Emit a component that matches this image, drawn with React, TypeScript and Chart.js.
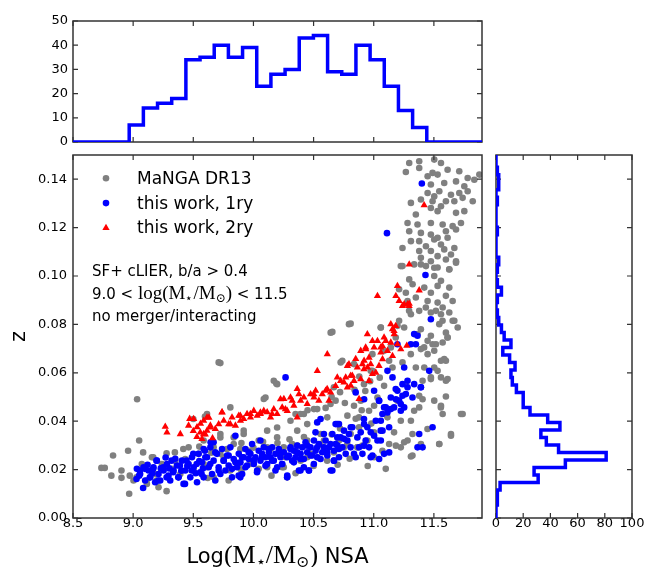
import { useEffect, useRef } from 'react';
import { Chart, registerables } from 'chart.js';

Chart.register(...registerables);

const W = 655;
const H = 567;
const SANS = '"DejaVu Sans", sans-serif';
const SERIF = '"Liberation Serif", "DejaVu Serif", serif';
const GRAY = '#808080';
const BLUE = '#0000ff';
const RED = '#ff0000';
const FRAME = '#333333';

// ---------- tick values ----------
const xTicks = [8.5, 9.0, 9.5, 10.0, 10.5, 11.0, 11.5];
const zTicks = [0, 0.02, 0.04, 0.06, 0.08, 0.1, 0.12, 0.14];
const topCountTicks = [0, 10, 20, 30, 40, 50];
const rightCountTicks = [0, 20, 40, 60, 80, 100];

// ---------- labels ----------
const seriesLabels = ['MaNGA DR13', 'this work, 1ry', 'this work, 2ry'];

// ---------- top histogram (stellar mass) ----------
const massBinStart = 8.496;
const massBinWidth = 0.1178;
const massCounts = [0, 0, 0, 0, 7, 14, 16, 18, 34, 35, 40, 35, 39, 23, 28, 30, 43, 44, 29, 28, 40, 34, 23, 13, 6, 0, 0, 0, 0];

// ---------- right histogram (redshift) ----------
const zBinStart = -0.0008;
const zBinWidth = 0.0031;
const zCounts = [0, 0, 1, 1, 3, 31, 28, 51, 81, 46, 37, 33, 47, 38, 25, 20, 20, 15, 12, 11, 14, 10, 5, 11, 6, 4, 2,
  1, 0, 1, 4, 1, 0, 1, 2, 0, 0, 0, 1, 0, 0, 0, 1, 0, 2, 2, 1, 0, 0, 0];

// ---------- scatter: MaNGA DR13 (gray) ----------
const mangaDR13: [number, number][] = [
  [9.033, 0.0491], [9.05, 0.032], [8.833, 0.0258], [8.958, 0.0278], [9.083, 0.0271], [8.736, 0.0207], [8.764, 0.0207],
  [8.819, 0.0175], [8.903, 0.0196], [8.903, 0.0166], [8.967, 0.01], [9.278, 0.0111], [9.167, 0.0251], [9.278, 0.0267],
  [9.347, 0.0271], [9.417, 0.0285], [9.5, 0.0409], [9.597, 0.0419], [9.028, 0.0168], [8.972, 0.0175], [9.194, 0.0155],
  [9.111, 0.0155], [9.003, 0.0155], [9.072, 0.0223], [9.114, 0.0141], [9.156, 0.0251], [9.183, 0.0182], [9.211, 0.0127],
  [9.239, 0.0223], [9.322, 0.0203], [9.35, 0.0237], [9.392, 0.0182], [9.433, 0.0244], [9.461, 0.0292], [9.503, 0.0196],
  [9.544, 0.0265], [9.586, 0.032], [9.614, 0.021], [9.669, 0.0292], [9.711, 0.0643], [9.725, 0.0333], [9.753, 0.0251],
  [9.794, 0.0155], [9.836, 0.0306], [9.878, 0.021], [9.919, 0.0347], [9.961, 0.0278], [10.003, 0.0237], [10.044, 0.032],
  [10.086, 0.0492], [10.114, 0.021], [10.142, 0.0285], [10.169, 0.0567], [10.197, 0.0333], [10.239, 0.021], [10.267, 0.0251],
  [10.281, 0.0168], [10.322, 0.0306], [10.364, 0.0361], [10.392, 0.0237], [10.419, 0.043], [10.447, 0.032], [10.475, 0.0265],
  [10.503, 0.045], [10.531, 0.0251], [10.558, 0.0347], [10.586, 0.0292], [10.614, 0.0416], [10.642, 0.0766], [10.669, 0.054],
  [10.683, 0.0485], [10.711, 0.032], [10.725, 0.0643], [10.753, 0.0292], [10.781, 0.0423], [10.794, 0.0801], [10.808, 0.0347],
  [10.836, 0.0464], [10.864, 0.0292], [10.878, 0.0375], [10.892, 0.0485], [10.919, 0.0553], [10.947, 0.032], [10.961, 0.0443],
  [10.975, 0.0608], [10.989, 0.0677], [11.003, 0.0354], [11.031, 0.0498], [11.058, 0.0787], [11.072, 0.0278], [11.086, 0.0546],
  [11.114, 0.0416], [11.128, 0.0306], [11.142, 0.0705], [11.156, 0.0622], [11.169, 0.0354], [11.183, 0.0746], [11.197, 0.0485],
  [11.211, 0.0815], [11.225, 0.0402], [11.239, 0.0643], [11.253, 0.0787], [11.267, 0.0553], [11.281, 0.032], [11.294, 0.0856],
  [11.308, 0.0677], [11.322, 0.0258], [11.336, 0.0443], [11.35, 0.0622], [11.364, 0.076], [11.378, 0.0505], [11.392, 0.0306],
  [11.406, 0.0567], [11.419, 0.0705], [11.433, 0.087], [11.447, 0.0368], [11.475, 0.0581], [11.489, 0.0718], [11.503, 0.0485],
  [11.517, 0.0856], [11.531, 0.0608], [11.544, 0.0306], [11.558, 0.0457], [11.572, 0.0815], [11.586, 0.0657], [11.6, 0.0567],
  [11.614, 0.0746], [11.642, 0.0347], [11.656, 0.0815], [11.725, 0.043],
  [9.725, 0.0347], [9.836, 0.0333], [9.919, 0.0361], [10.114, 0.0361], [10.197, 0.0374], [10.308, 0.0402], [10.391, 0.043],
  [10.447, 0.0388], [10.53, 0.045], [10.641, 0.0471], [10.197, 0.0553], [10.1, 0.0498], [9.808, 0.0457], [9.614, 0.043],
  [9.669, 0.0168], [9.808, 0.0196], [9.975, 0.0223], [10.044, 0.0203], [10.252, 0.021], [10.252, 0.0292], [10.364, 0.0299],
  [10.586, 0.032], [10.669, 0.0271], [10.114, 0.0292], [9.891, 0.0285], [9.725, 0.0265], [9.586, 0.0223], [10.447, 0.0251],
  [10.613, 0.0237], [10.656, 0.0769], [9.725, 0.064], [10.19, 0.0556], [10.808, 0.0803],
  [11.739, 0.043], [11.642, 0.034], [11.545, 0.0306], [11.559, 0.0464], [11.6, 0.0502], [11.573, 0.043], [11.378, 0.0457],
  [11.406, 0.0491], [11.309, 0.0402], [11.322, 0.0347], [11.253, 0.0313], [11.225, 0.0292], [11.309, 0.0254], [11.1, 0.0203],
  [11.184, 0.0299], [11.003, 0.0464], [10.878, 0.0416], [10.906, 0.0299], [11.003, 0.0251], [10.864, 0.0292],
  [11.239, 0.1041], [11.392, 0.1048], [11.531, 0.1035], [11.628, 0.1028], [11.684, 0.1055], [11.295, 0.0986], [11.503, 0.1],
  [11.559, 0.098], [11.211, 0.0945], [11.267, 0.0931], [11.323, 0.0966], [11.42, 0.0952], [11.475, 0.0931], [11.531, 0.0959],
  [11.628, 0.0952], [11.6, 0.0918], [11.281, 0.0897], [11.35, 0.0911], [11.448, 0.0897], [11.531, 0.089], [11.573, 0.087],
  [11.656, 0.0897], [11.309, 0.0842], [11.378, 0.0856], [11.475, 0.0849], [11.559, 0.0842], [11.628, 0.0849], [11.67, 0.0815],
  [11.059, 0.0787], [11.198, 0.0794], [11.392, 0.078], [11.475, 0.0753], [11.545, 0.0801], [11.6, 0.0766], [11.448, 0.0732],
  [11.517, 0.0718], [11.573, 0.0725], [11.614, 0.0746], [11.698, 0.0787], [11.086, 0.0691], [11.392, 0.0698], [11.448, 0.0677],
  [11.503, 0.0691], [11.559, 0.065], [11.6, 0.065], [11.42, 0.0622], [11.503, 0.0622], [11.475, 0.0574], [11.559, 0.0581],
  [11.614, 0.0574], [11.128, 0.065], [10.989, 0.0608], [10.739, 0.065], [10.836, 0.0636],
  [11.295, 0.1467], [11.378, 0.1474], [11.503, 0.1481], [11.559, 0.1467], [11.267, 0.143], [11.378, 0.1446], [11.448, 0.1412],
  [11.489, 0.1426], [11.531, 0.1419], [11.614, 0.1439], [11.711, 0.1433], [11.781, 0.1405], [11.836, 0.1398], [11.878, 0.1419],
  [11.475, 0.1378], [11.586, 0.1384], [11.684, 0.1391], [11.753, 0.1371], [11.448, 0.1343], [11.503, 0.1329], [11.545, 0.135],
  [11.642, 0.1336], [11.711, 0.1343], [11.781, 0.135], [11.309, 0.1302], [11.392, 0.1316], [11.489, 0.1309], [11.559, 0.1288],
  [11.6, 0.1309], [11.67, 0.1309], [11.739, 0.1323], [11.823, 0.1309], [11.531, 0.1268], [11.35, 0.1254], [11.475, 0.1281],
  [11.684, 0.1261], [11.753, 0.1268], [11.281, 0.1219], [11.364, 0.1213], [11.475, 0.1219], [11.573, 0.1213], [11.656, 0.1206],
  [11.725, 0.1219], [11.295, 0.1185], [11.392, 0.1178], [11.475, 0.1171], [11.531, 0.1158], [11.6, 0.1185], [11.684, 0.1192],
  [11.239, 0.1116], [11.309, 0.1144], [11.378, 0.1144], [11.434, 0.1123], [11.503, 0.1151], [11.559, 0.113], [11.614, 0.1158],
  [11.67, 0.1116], [11.378, 0.1103], [11.475, 0.1103], [11.586, 0.111], [11.642, 0.1089], [11.392, 0.1075], [11.475, 0.1061],
  [11.531, 0.1082], [11.6, 0.1068], [11.684, 0.1061], [11.225, 0.1041], [11.336, 0.1048], [11.434, 0.1041], [11.503, 0.1034],
  [11.628, 0.1027],
  [9.55, 0.0295], [9.65, 0.027], [9.78, 0.0285], [9.9, 0.031], [10.0, 0.029], [10.08, 0.0315], [10.2, 0.031], [10.3, 0.0325],
  [10.42, 0.0335], [10.55, 0.0305], [10.65, 0.0345], [10.72, 0.037], [10.78, 0.0305], [10.85, 0.041], [10.9, 0.0445],
  [10.98, 0.039], [9.62, 0.0165], [9.9, 0.0195], [10.15, 0.0175], [10.35, 0.0185], [10.5, 0.0215], [10.7, 0.022],
  [10.8, 0.0245], [10.95, 0.0215],
  [10.65, 0.05], [10.72, 0.052], [10.76, 0.0475], [10.84, 0.053], [10.88, 0.0585], [10.93, 0.0525], [10.97, 0.0565],
  [11.05, 0.058], [10.6, 0.0455], [10.45, 0.0445], [10.35, 0.043],
];

// ---------- scatter: this work, 1ry (blue) ----------
const thisWork1ry: [number, number][] = [
  [9.028, 0.0161], [9.056, 0.0196], [9.083, 0.0124], [9.097, 0.0203], [9.139, 0.0168], [9.167, 0.0203], [9.194, 0.0237],
  [9.208, 0.0155], [9.25, 0.021], [9.278, 0.0168], [9.319, 0.0237], [9.333, 0.0189], [9.375, 0.0168], [9.389, 0.0216],
  [9.431, 0.0141], [9.444, 0.0237], [9.486, 0.0196], [9.5, 0.0265], [9.528, 0.0223], [9.569, 0.0182], [9.597, 0.0278],
  [9.644, 0.0313],
  [9.031, 0.0203], [9.058, 0.0182], [9.086, 0.021], [9.1, 0.0155], [9.128, 0.0196], [9.142, 0.0168], [9.169, 0.021],
  [9.183, 0.0148], [9.197, 0.0237], [9.211, 0.0182], [9.225, 0.0155], [9.253, 0.0196], [9.281, 0.0223], [9.294, 0.0175],
  [9.308, 0.0155], [9.336, 0.0196], [9.364, 0.0217], [9.378, 0.0168], [9.406, 0.0237], [9.419, 0.0141], [9.433, 0.0196],
  [9.461, 0.0223], [9.475, 0.0168], [9.489, 0.0251], [9.503, 0.021], [9.531, 0.0148], [9.544, 0.0265], [9.558, 0.0189],
  [9.572, 0.023], [9.586, 0.0168], [9.614, 0.0251], [9.628, 0.021], [9.642, 0.0292], [9.656, 0.0182], [9.669, 0.0237],
  [9.683, 0.0155], [9.697, 0.0265], [9.711, 0.021], [9.725, 0.0182], [9.739, 0.0285], [9.753, 0.0237], [9.767, 0.0196],
  [9.781, 0.0258], [9.794, 0.0217], [9.808, 0.0292], [9.822, 0.0168], [9.836, 0.0244], [9.85, 0.034], [9.864, 0.021],
  [9.878, 0.0265], [9.892, 0.023], [9.906, 0.0182], [9.919, 0.0251], [9.933, 0.0285], [9.947, 0.0217], [9.961, 0.0244],
  [9.975, 0.0265], [9.989, 0.0306], [10.003, 0.0223], [10.017, 0.0251], [10.031, 0.0196], [10.044, 0.0278], [10.058, 0.0237],
  [10.072, 0.0265], [10.086, 0.0292], [10.1, 0.0251], [10.114, 0.0223], [10.128, 0.0272], [10.142, 0.0251], [10.156, 0.0292],
  [10.169, 0.0237], [10.183, 0.0265], [10.197, 0.021], [10.211, 0.0285], [10.225, 0.0251], [10.239, 0.0223], [10.253, 0.0272],
  [10.267, 0.0581], [10.281, 0.0175], [10.294, 0.0258], [10.308, 0.0292], [10.322, 0.0237], [10.336, 0.0278], [10.35, 0.0251],
  [10.364, 0.0299], [10.378, 0.0196], [10.392, 0.0265], [10.406, 0.0292], [10.419, 0.0244], [10.433, 0.0313], [10.447, 0.0272],
  [10.461, 0.0196], [10.475, 0.0292], [10.489, 0.0258], [10.503, 0.032], [10.517, 0.0278], [10.531, 0.0251], [10.544, 0.0306],
  [10.558, 0.0409], [10.572, 0.0272], [10.586, 0.0292], [10.6, 0.032], [10.614, 0.0258], [10.628, 0.0292], [10.642, 0.0196],
  [10.656, 0.0347], [10.669, 0.0278], [10.683, 0.0306], [10.697, 0.0388], [10.711, 0.0251], [10.725, 0.0333], [10.739, 0.0292],
  [10.753, 0.0361], [10.767, 0.0265], [10.781, 0.032], [10.794, 0.0347], [10.808, 0.0292], [10.822, 0.0375], [10.836, 0.0265],
  [10.85, 0.0519], [10.864, 0.0333], [10.878, 0.0292], [10.892, 0.0354], [10.906, 0.0265], [10.919, 0.0409], [10.933, 0.032],
  [10.947, 0.0375], [10.961, 0.0292], [10.975, 0.0354], [10.989, 0.0258], [11.003, 0.0526], [11.017, 0.0402], [11.031, 0.032],
  [11.044, 0.0485], [11.058, 0.0361], [11.072, 0.043], [11.086, 0.0265], [11.1, 0.0457], [11.114, 0.0608], [11.128, 0.0375],
  [11.142, 0.0498], [11.156, 0.0581], [11.169, 0.0457], [11.183, 0.0533], [11.197, 0.0718], [11.211, 0.0485], [11.225, 0.0443],
  [11.239, 0.0553], [11.253, 0.0622], [11.267, 0.0512], [11.281, 0.0567], [11.308, 0.0718], [11.322, 0.0498], [11.336, 0.076],
  [11.35, 0.0718], [11.364, 0.0753], [11.378, 0.0347], [11.392, 0.054], [11.406, 0.0292], [11.461, 0.0608], [11.475, 0.0821],
  [11.489, 0.0375],
  [11.364, 0.0292], [11.253, 0.0457], [11.225, 0.0471], [11.184, 0.0491], [11.142, 0.045], [11.114, 0.0436], [11.059, 0.0402],
  [11.073, 0.0361], [11.059, 0.032], [11.128, 0.0271], [11.045, 0.0244], [10.975, 0.0251], [11.003, 0.034], [10.92, 0.0388],
  [10.92, 0.0299], [10.85, 0.0251], [10.809, 0.0375], [10.753, 0.0327], [10.711, 0.0388], [10.698, 0.0299], [10.67, 0.0237],
  [10.656, 0.0196], [11.281, 0.054], [11.336, 0.0553], [11.392, 0.054], [11.197, 0.0526], [11.239, 0.0505], [10.92, 0.0491],
  [11.045, 0.0484], [11.086, 0.0457],
  [11.4, 0.1382], [11.11, 0.1177], [11.43, 0.1004],
  [10.53, 0.0395], [10.683, 0.0388], [10.516, 0.0354], [10.058, 0.032], [9.669, 0.0313], [9.586, 0.0285], [10.391, 0.0196],
  [10.461, 0.0196], [10.28, 0.0168], [9.891, 0.0168],
  [9.6, 0.0251], [9.641, 0.0223], [9.683, 0.0271], [9.711, 0.0196], [9.752, 0.0237], [9.794, 0.0258], [9.822, 0.0203],
  [9.85, 0.023], [9.877, 0.0175], [9.905, 0.0251], [9.933, 0.021], [9.961, 0.0271], [10.002, 0.0237], [10.03, 0.0189],
  [10.072, 0.0251], [10.1, 0.0216], [10.127, 0.0285], [10.155, 0.0237], [10.183, 0.0196], [10.211, 0.0265], [10.238, 0.0223],
  [10.28, 0.0251], [10.308, 0.0285], [10.336, 0.023], [10.364, 0.0271], [10.391, 0.0244], [10.419, 0.021], [10.447, 0.0299],
  [10.475, 0.0258], [10.502, 0.0223], [10.53, 0.0292], [10.558, 0.0244], [10.586, 0.0347], [10.613, 0.0271], [10.641, 0.0306],
  [10.669, 0.0237], [10.697, 0.0333], [10.711, 0.0285],
  [9.05, 0.0175], [9.12, 0.022], [9.16, 0.0185], [9.23, 0.0205], [9.27, 0.025], [9.3, 0.0205], [9.35, 0.0245], [9.4, 0.0195],
  [9.45, 0.0215], [9.52, 0.0185], [9.55, 0.0235], [9.58, 0.0205],
];

// ---------- scatter: this work, 2ry (red) ----------
const thisWork2ry: [number, number][] = [
  [9.267, 0.0377], [9.281, 0.0354], [9.392, 0.0347], [9.461, 0.0382], [9.503, 0.0409], [9.531, 0.0375], [9.558, 0.0354],
  [9.572, 0.0327], [9.586, 0.0402], [9.614, 0.0361], [9.642, 0.0382], [9.683, 0.0368], [9.711, 0.0388], [9.739, 0.0437],
  [9.753, 0.0402], [9.794, 0.0388], [9.822, 0.0416], [9.85, 0.0382], [9.878, 0.0423], [9.892, 0.0402], [9.919, 0.0409],
  [9.947, 0.043], [9.975, 0.0416], [10.003, 0.0443], [10.031, 0.0423], [10.058, 0.043], [10.086, 0.0443], [10.114, 0.0437],
  [10.142, 0.0416], [10.169, 0.045], [10.197, 0.043], [10.239, 0.0457], [10.253, 0.0492], [10.281, 0.0443], [10.308, 0.0498],
  [10.322, 0.0485], [10.336, 0.0464], [10.364, 0.0533], [10.378, 0.0512], [10.392, 0.0485], [10.419, 0.0498], [10.447, 0.0471],
  [10.475, 0.0512], [10.503, 0.0498], [10.517, 0.0526], [10.531, 0.0608], [10.544, 0.0485], [10.572, 0.0512], [10.6, 0.0526],
  [10.614, 0.0677], [10.628, 0.0485], [10.642, 0.0519], [10.683, 0.0546], [10.697, 0.0581], [10.725, 0.0567], [10.753, 0.056],
  [10.767, 0.0581], [10.781, 0.054], [10.794, 0.0636], [10.808, 0.0588], [10.836, 0.0567], [10.85, 0.0657], [10.864, 0.0622],
  [10.878, 0.0492], [10.892, 0.0691], [10.906, 0.0636], [10.919, 0.0615], [10.933, 0.0705], [10.947, 0.076], [10.961, 0.0663],
  [10.975, 0.0636], [10.989, 0.0732], [11.003, 0.0705], [11.017, 0.0601], [11.031, 0.0732], [11.044, 0.0629], [11.058, 0.0705],
  [11.072, 0.0711], [11.086, 0.0746], [11.114, 0.0691], [11.142, 0.0801], [11.156, 0.078], [11.169, 0.0773], [11.183, 0.0794],
  [11.197, 0.0718], [11.225, 0.0698], [11.253, 0.0883], [11.281, 0.0883], [11.294, 0.0876],
  [11.295, 0.1048], [11.197, 0.0959], [11.378, 0.0941], [11.031, 0.0918], [11.184, 0.0918], [11.211, 0.0897], [11.295, 0.0886],
  [11.239, 0.0876], [11.419, 0.1293],
  [11.17, 0.076], [11.1, 0.0732], [11.142, 0.0725], [11.275, 0.0712], [10.934, 0.0698], [11.059, 0.0684], [11.156, 0.067],
  [10.92, 0.065], [11.073, 0.0656], [10.781, 0.0629], [10.948, 0.0622], [10.989, 0.0595], [10.822, 0.0588], [10.892, 0.0574],
  [10.961, 0.0567], [10.809, 0.0547],
  [9.47, 0.041], [9.5, 0.036], [9.53, 0.0335], [9.56, 0.039], [9.6, 0.0345], [9.63, 0.0415], [9.66, 0.033],
  [10.155, 0.043], [10.266, 0.045], [10.364, 0.0416], [9.641, 0.0374], [9.808, 0.0388],
  [9.614, 0.0416], [9.739, 0.0436], [9.891, 0.0423], [9.975, 0.043], [10.058, 0.0436], [10.225, 0.0491], [10.502, 0.0512],
  [10.613, 0.0533], [9.586, 0.0347],
];

// ---------- helpers ----------
const toXY = ([x, y]: [number, number]) => ({ x, y });

function massStep() {
  const pts: { x: number; y: number }[] = [];
  massCounts.forEach((c, i) => {
    const a = massBinStart + i * massBinWidth;
    pts.push({ x: a, y: c }, { x: a + massBinWidth, y: c });
  });
  return pts;
}

function zStep() {
  const pts: { x: number; y: number }[] = [];
  zCounts.forEach((c, i) => {
    const a = zBinStart + i * zBinWidth;
    pts.push({ x: c, y: a }, { x: c, y: a + zBinWidth });
  });
  return pts;
}

const setTicks = (vals: number[]) => (s: any) => {
  s.ticks = vals.map((v) => ({ value: v }));
};

function framePlugin(under: boolean) {
  const draw = (chart: any) => {
    const { ctx, chartArea } = chart;
    const { left, top, right, bottom } = chartArea;
    const xs = chart.scales.x;
    const ys = chart.scales.y;
    const tl = 5;
    ctx.save();
    ctx.strokeStyle = FRAME;
    ctx.lineWidth = 1.2;
    ctx.beginPath();
    for (const t of xs.ticks) {
      const p = xs.getPixelForValue(t.value);
      ctx.moveTo(p, bottom);
      ctx.lineTo(p, bottom - tl);
      ctx.moveTo(p, top);
      ctx.lineTo(p, top + tl);
    }
    for (const t of ys.ticks) {
      const p = ys.getPixelForValue(t.value);
      ctx.moveTo(left, p);
      ctx.lineTo(left + tl, p);
      ctx.moveTo(right, p);
      ctx.lineTo(right - tl, p);
    }
    ctx.stroke();
    ctx.lineWidth = 1.5;
    ctx.strokeRect(left, top, right - left, bottom - top);
    ctx.restore();
  };
  return under
    ? { id: 'frameUnder', beforeDatasetsDraw: draw }
    : { id: 'frameOver', afterDatasetsDraw: draw };
}

type Seg = { t: string; f: string; dy?: number };

function drawSegs(ctx: any, segs: Seg[], x: number, y: number, center: boolean) {
  let total = 0;
  const widths = segs.map((s) => {
    ctx.font = s.f;
    const w = ctx.measureText(s.t).width;
    total += w;
    return w;
  });
  let cx = center ? x - total / 2 : x;
  segs.forEach((s, i) => {
    ctx.font = s.f;
    ctx.fillText(s.t, cx, y + (s.dy || 0));
    cx += widths[i];
  });
}

const noteFont = `15px ${SANS}`;
const noteMath = `19px ${SERIF}`;
const noteSub = `12px ${SERIF}`;
const note1: Seg[] = [{ t: 'SF+ cLIER, b/a > 0.4', f: noteFont }];
const note2: Seg[] = [
  { t: '9.0 < ', f: noteFont },
  { t: 'log(M', f: noteMath },
  { t: '\u22C6', f: noteSub, dy: 3 },
  { t: '/M', f: noteMath },
  { t: '\u2299', f: noteSub, dy: 3 },
  { t: ')', f: noteMath },
  { t: ' < 11.5', f: noteFont },
];
const note3: Seg[] = [{ t: 'no merger/interacting', f: noteFont }];

const titleSans = `21px ${SANS}`;
const titleMath = `26px ${SERIF}`;
const titleSub = `16px ${SERIF}`;
const xTitle: Seg[] = [
  { t: 'Log', f: titleSans },
  { t: '(M', f: titleMath },
  { t: '\u22C6', f: titleSub, dy: 4 },
  { t: '/M', f: titleMath },
  { t: '\u2299', f: titleSub, dy: 4 },
  { t: ')', f: titleMath },
  { t: ' NSA', f: titleSans },
];

const textPlugin = {
  id: 'mainTexts',
  afterDraw(chart: any) {
    const { ctx, chartArea } = chart;
    const { left, top, right, bottom } = chartArea;
    ctx.save();
    ctx.textAlign = 'left';
    ctx.textBaseline = 'alphabetic';
    chart.data.datasets.forEach((ds: any, i: number) => {
      const cx = left + 33;
      const cy = top + 23.3 + i * 24.8;
      const r = ds.pointRadius;
      ctx.fillStyle = ds.pointBackgroundColor;
      ctx.beginPath();
      if (ds.pointStyle === 'triangle') {
        ctx.moveTo(cx, cy - r);
        ctx.lineTo(cx + 0.866 * r, cy + 0.5 * r);
        ctx.lineTo(cx - 0.866 * r, cy + 0.5 * r);
        ctx.closePath();
      } else {
        ctx.arc(cx, cy, r, 0, Math.PI * 2);
      }
      ctx.fill();
      ctx.fillStyle = '#000';
      ctx.font = `17px ${SANS}`;
      ctx.fillText(ds.label, left + 64, cy + 5.5);
    });
    ctx.fillStyle = '#000';
    drawSegs(ctx, note1, left + 19, top + 121, false);
    drawSegs(ctx, note2, left + 19, top + 143.5, false);
    drawSegs(ctx, note3, left + 19, top + 165.5, false);
    drawSegs(ctx, xTitle, (left + right) / 2, bottom + 44.5, true);
    ctx.restore();
  },
};

const tickFont = { family: SANS, size: 13, lineHeight: 1 };

function baseOptions(padding: any) {
  return {
    responsive: false,
    animation: false as const,
    events: [] as any[],
    layout: { padding, autoPadding: false },
    plugins: { legend: { display: false }, tooltip: { enabled: false } },
  };
}

export default function App() {
  const topRef = useRef<HTMLCanvasElement>(null);
  const mainRef = useRef<HTMLCanvasElement>(null);
  const rightRef = useRef<HTMLCanvasElement>(null);

  useEffect(() => {
    Chart.defaults.font.family = SANS;
    const charts: Chart[] = [];

    charts.push(
      new Chart(topRef.current as HTMLCanvasElement, {
        type: 'scatter',
        data: {
          datasets: [
            {
              data: massStep(),
              showLine: true,
              borderColor: BLUE,
              borderWidth: 3.5,
              borderJoinStyle: 'miter',
              pointRadius: 0,
              tension: 0,
            } as any,
          ],
        },
        options: {
          ...baseOptions({ top: 21, right: 173, bottom: 425, left: 0 }),
          scales: {
            x: {
              type: 'linear',
              min: 8.5,
              max: 11.9,
              afterBuildTicks: setTicks(xTicks),
              afterFit: (s: any) => { s.height = 0; },
              grid: { display: false, drawTicks: false },
              border: { display: false },
              ticks: { display: false },
            },
            y: {
              type: 'linear',
              min: 0,
              max: 50,
              afterBuildTicks: setTicks(topCountTicks),
              afterFit: (s: any) => { s.width = 73; },
              grid: { display: false, drawTicks: false },
              border: { display: false },
              ticks: { font: tickFont, color: '#000', padding: 5, callback: (v: any) => String(v) },
            },
          },
        } as any,
        plugins: [framePlugin(true)],
      })
    );

    charts.push(
      new Chart(mainRef.current as HTMLCanvasElement, {
        type: 'scatter',
        data: {
          datasets: [
            {
              label: seriesLabels[0],
              data: mangaDR13.map(toXY),
              pointRadius: 3.3,
              pointBackgroundColor: GRAY,
              pointBorderWidth: 0,
              order: 3,
            } as any,
            {
              label: seriesLabels[1],
              data: thisWork1ry.map(toXY),
              pointRadius: 3.3,
              pointBackgroundColor: BLUE,
              pointBorderWidth: 0,
              order: 2,
            } as any,
            {
              label: seriesLabels[2],
              data: thisWork2ry.map(toXY),
              pointStyle: 'triangle',
              pointRadius: 4.2,
              pointBackgroundColor: RED,
              pointBorderWidth: 0,
              order: 1,
            } as any,
          ],
        },
        options: {
          ...baseOptions({ top: 155, right: 173, bottom: 0, left: 0 }),
          scales: {
            x: {
              type: 'linear',
              min: 8.5,
              max: 11.9,
              afterBuildTicks: setTicks(xTicks),
              afterFit: (s: any) => { s.height = 49; },
              grid: { display: false, drawTicks: false },
              border: { display: false },
              ticks: {
                font: tickFont,
                color: '#000',
                padding: -1,
                maxRotation: 0,
                autoSkip: false,
                callback: (v: any) => Number(v).toFixed(1),
              },
            },
            y: {
              type: 'linear',
              min: 0,
              max: 0.15,
              afterBuildTicks: setTicks(zTicks),
              afterFit: (s: any) => { s.width = 73; },
              grid: { display: false, drawTicks: false },
              border: { display: false },
              title: { display: true, text: 'z', color: '#000', font: { family: SANS, size: 21 }, padding: { top: 7.4, bottom: 0 } },
              ticks: {
                font: tickFont,
                color: '#000',
                padding: 6,
                autoSkip: false,
                callback: (v: any) => Number(v).toFixed(2),
              },
            },
          },
        } as any,
        plugins: [framePlugin(false), textPlugin],
      })
    );

    charts.push(
      new Chart(rightRef.current as HTMLCanvasElement, {
        type: 'scatter',
        data: {
          datasets: [
            {
              data: zStep(),
              showLine: true,
              borderColor: BLUE,
              borderWidth: 3.5,
              borderJoinStyle: 'miter',
              pointRadius: 0,
              tension: 0,
            } as any,
          ],
        },
        options: {
          ...baseOptions({ top: 155, right: 23, bottom: 0, left: 0 }),
          scales: {
            x: {
              type: 'linear',
              min: 0,
              max: 100,
              afterBuildTicks: setTicks(rightCountTicks),
              afterFit: (s: any) => { s.height = 49; },
              grid: { display: false, drawTicks: false },
              border: { display: false },
              ticks: {
                font: tickFont,
                color: '#000',
                padding: -1,
                maxRotation: 0,
                autoSkip: false,
                callback: (v: any) => String(v),
              },
            },
            y: {
              type: 'linear',
              min: 0,
              max: 0.15,
              afterBuildTicks: setTicks(zTicks),
              afterFit: (s: any) => { s.width = 496; },
              grid: { display: false, drawTicks: false },
              border: { display: false },
              ticks: { display: false },
            },
          },
        } as any,
        plugins: [framePlugin(true)],
      })
    );

    return () => charts.forEach((c) => c.destroy());
  }, []);

  const cs: any = { position: 'absolute', left: 0, top: 0, width: W, height: H };
  return (
    <div style={{ position: 'absolute', left: 0, top: 0, width: W, height: H, background: '#fff' }}>
      <canvas ref={topRef} width={W} height={H} style={cs} />
      <canvas ref={mainRef} width={W} height={H} style={cs} />
      <canvas ref={rightRef} width={W} height={H} style={cs} />
    </div>
  );
}
